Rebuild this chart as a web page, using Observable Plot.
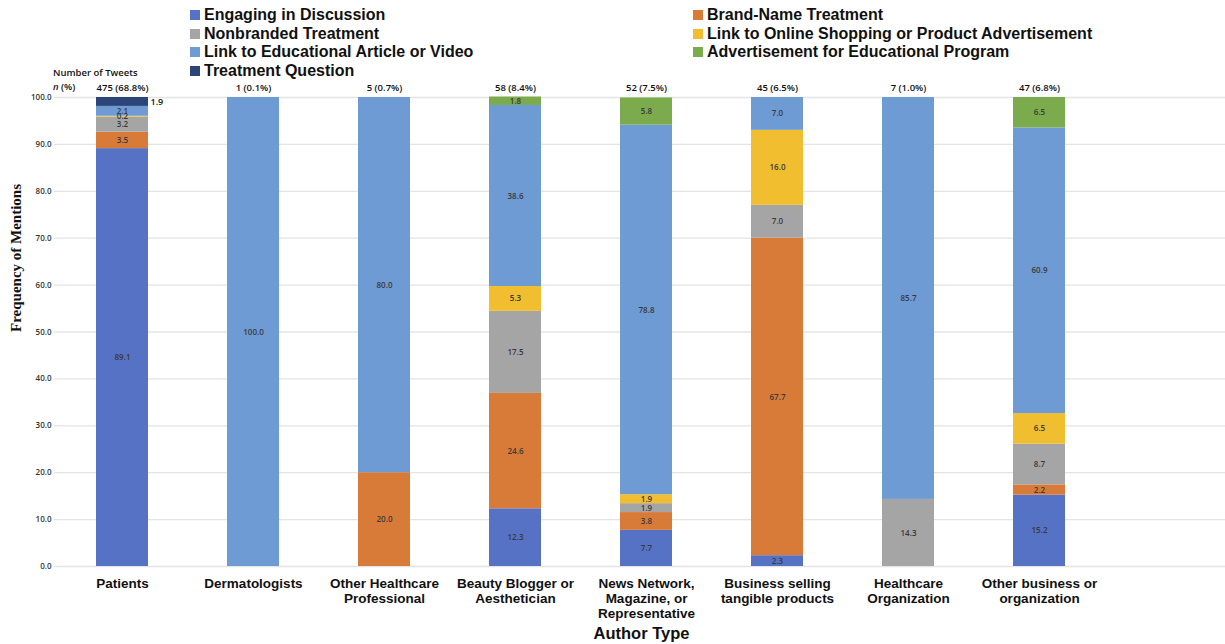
<!DOCTYPE html>
<html>
<head>
<meta charset="utf-8">
<script src="https://cdn.jsdelivr.net/npm/d3@7"></script>
<script src="https://cdn.jsdelivr.net/npm/@observablehq/plot@0.6"></script>
<style>
  body { margin: 0; background: #fff; }
  #wrap { position: relative; width: 1225px; height: 644px; overflow: hidden; }
  #legend { position: absolute; left: 190px; top: 6px; display: grid; grid-template-columns: 503px auto; grid-auto-rows: 18.5px;
            font-family: "Liberation Sans", Arial, sans-serif; font-weight: bold; font-size: 16px; color: #111; }
  #legend .item { display: flex; align-items: center; white-space: nowrap; }
  #legend .sw { width: 10px; height: 10px; margin-right: 4px; flex: none; }
  .note { position: absolute; font-family: "Open Sans", sans-serif; font-weight: 600; font-size: 9.5px; color: #111; white-space: nowrap; }
</style>
</head>
<body>
<div id="wrap">
  <div id="chart"></div>
  <div id="legend"></div>
  <div class="note" style="left:53px; top:66px;">Number of Tweets</div>
  <div class="note" style="left:53px; top:80px;"><i>n</i> (%)</div>
</div>
<script>
const categories = ["Patients", "Dermatologists", "Other Healthcare\nProfessional", "Beauty Blogger or\nAesthetician",
  "News Network,\nMagazine, or\nRepresentative", "Business selling\ntangible products", "Healthcare\nOrganization",
  "Other business or\norganization"];
const series = ["Engaging in Discussion", "Brand-Name Treatment", "Nonbranded Treatment",
  "Link to Online Shopping or Product Advertisement", "Link to Educational Article or Video",
  "Advertisement for Educational Program", "Treatment Question"];
const colors = ["#5572c4", "#d97b38", "#a5a5a5", "#f1be2f", "#6f9bd4", "#7bab4c", "#2c4579"];
const tweetsN = [475, 1, 5, 58, 52, 45, 7, 47];
const tweetsPct = [68.8, 0.1, 0.7, 8.4, 7.5, 6.5, 1.0, 6.8];
// values by series, one per category (null = not present)
const engaging       = [89.1, null, null, 12.3, 7.7, 2.3, null, 15.2];
const brandName      = [3.5, null, 20.0, 24.6, 3.8, 67.7, null, 2.2];
const nonbranded     = [3.2, null, null, 17.5, 1.9, 7.0, 14.3, 8.7];
const onlineShopping = [0.2, null, null, 5.3, 1.9, 16.0, null, 6.5];
const educational    = [2.1, 100.0, 80.0, 38.6, 78.8, 7.0, 85.7, 60.9];
const eduProgram     = [null, null, null, 1.8, 5.8, null, null, 6.5];
const treatmentQ     = [1.9, null, null, null, null, null, null, null];
const yTicks = [0, 10, 20, 30, 40, 50, 60, 70, 80, 90, 100];

const valueSets = [engaging, brandName, nonbranded, onlineShopping, educational, eduProgram, treatmentQ];
const rows = [];
categories.forEach((c, i) => {
  series.forEach((s, j) => {
    const v = valueSets[j][i];
    if (v != null) rows.push({category: c, series: s, value: v});
  });
});
const counts = categories.map((c, i) => ({category: c, label: `${tweetsN[i]} (${tweetsPct[i].toFixed(1)}%)`}));
const isOutside = d => d.category === "Patients" && d.series === "Treatment Question";

const plot = Plot.plot({
  width: 1225,
  height: 644,
  marginTop: 97,
  marginBottom: 78,
  marginLeft: 57,
  marginRight: 0,
  style: {fontFamily: "Liberation Sans, Arial, sans-serif", background: "#fff"},
  x: {type: "band", domain: categories, range: [57, 57 + 8 * 131], paddingInner: 0.6, paddingOuter: 0.3, label: null},
  y: {domain: [0, 100], label: null},
  color: {domain: series, range: colors},
  marks: [
    Plot.gridY(yTicks, {stroke: "#e4e4e4", strokeOpacity: 1, strokeWidth: 1.3}),
    Plot.axisY(yTicks, {tickFormat: d => d.toFixed(1), tickSize: 3, stroke: "#ddd", tickPadding: 3,
      fontSize: 8, fontFamily: "Open Sans, sans-serif", fontWeight: 600, fill: "#333", label: null}),
    Plot.axisX({tickSize: 0, tickPadding: 11, fontSize: 13.5, fontWeight: "bold", fill: "#111", lineHeight: 1.1, label: null}),
    Plot.barY(rows, {x: "category", y: "value", fill: "series", order: null}),
    Plot.text(rows, Plot.stackY({x: "category", y: "value", z: "series", order: null,
      text: d => isOutside(d) ? "" : d.value.toFixed(1),
      fontSize: 8, fontFamily: "Open Sans, sans-serif", fontWeight: 600, fill: "#3a3a3a"})),
    Plot.text(rows, Plot.stackY({x: "category", y: "value", z: "series", order: null,
      text: d => isOutside(d) ? d.value.toFixed(1) : "",
      textAnchor: "start", dx: 28, fontSize: 9, fontFamily: "Open Sans, sans-serif", fontWeight: 600, fill: "#111"})),
    Plot.text(counts, {x: "category", y: () => 100, text: "label", dy: -10,
      fontSize: 9.5, fontFamily: "Open Sans, sans-serif", fontWeight: 600, fill: "#111"}),
    Plot.text(["Frequency of Mentions"], {frameAnchor: "left", rotate: -90, dx: -41, text: d => d,
      fontFamily: "Liberation Serif, Times New Roman, serif", fontWeight: "bold", fontSize: 15, fill: "#111"}),
    Plot.text(["Author Type"], {frameAnchor: "bottom", dy: 72, text: d => d,
      fontWeight: "bold", fontSize: 16.5, fill: "#111"})
  ]
});
document.getElementById("chart").appendChild(plot);

const legend = document.getElementById("legend");
series.forEach((s, i) => {
  const item = document.createElement("div");
  item.className = "item";
  const sw = document.createElement("span");
  sw.className = "sw";
  sw.style.background = colors[i];
  const t = document.createElement("span");
  t.textContent = s;
  item.appendChild(sw);
  item.appendChild(t);
  legend.appendChild(item);
});
</script>
</body>
</html>
